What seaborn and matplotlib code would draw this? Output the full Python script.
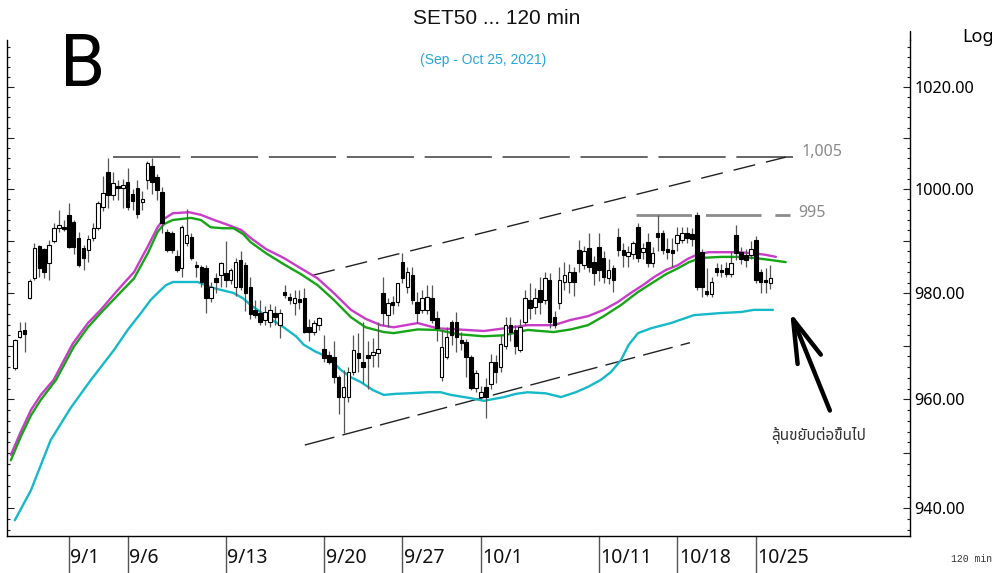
import matplotlib
matplotlib.use("Agg")
import matplotlib.pyplot as plt
import seaborn as sns
import numpy as np
import pandas as pd
from matplotlib import font_manager, ft2font
from matplotlib.ticker import FixedLocator, FuncFormatter, NullFormatter
from matplotlib.transforms import blended_transform_factory

# ---------------- data ----------------
opens = [965.8, 971.6, 973.0, 979.0, 982.8, 989.0, 988.4, 985.7, 989.9, 992.5, 992.6,
         995.0, 993.6, 990.5, 988.6, 988.2, 990.5, 992.4, 996.5, 1003.4, 998.8, 1000.6, 1000.2,
         1001.3, 999.0, 1000.2, 997.5, 1001.7, 1004.5, 1002.3, 999.4, 991.7, 991.5, 987.0, 984.8,
         989.6, 990.7, 985.4, 985.0, 984.7, 979.0, 982.8, 983.4, 983.8, 982.5, 981.1, 986.3,
         985.3, 981.1, 976.8, 976.2, 974.9, 974.5, 976.2, 973.9, 980.2, 979.2, 978.1, 978.9,
         979.0, 973.5, 972.6, 973.9, 969.5, 968.2, 967.9, 964.1, 960.4, 960.4, 965.1, 968.7,
         966.9, 968.2, 968.3, 968.7, 980.0, 975.8, 978.3, 978.3, 985.9, 981.1, 983.4, 978.3,
         976.8, 976.8, 979.0, 975.2, 964.1, 967.9, 974.5, 974.5, 971.1, 970.8, 967.9, 962.1,
         960.4, 962.3, 962.9, 966.9, 966.0, 970.0, 974.0, 973.0, 969.2, 974.5, 978.7, 977.3,
         980.6, 978.7, 982.5, 975.4, 978.1, 982.1, 982.1, 984.0, 988.2, 985.3, 988.6, 986.0,
         988.8, 986.7, 982.8, 984.7, 990.7, 988.2, 987.0, 987.4, 992.6, 987.8, 989.7, 985.7,
         991.5, 991.5, 988.4, 988.2, 989.6, 990.1, 991.5, 991.3, 995.0, 987.8, 980.4, 979.8,
         984.7, 984.4, 984.7, 983.6, 991.1, 987.8, 987.3, 987.3, 990.1, 984.0, 982.3, 981.9]
highs = [971.3, 974.5, 974.5, 982.7, 989.5, 989.2, 988.6, 990.1, 993.4, 995.9, 993.9,
         997.3, 994.0, 991.7, 989.1, 991.2, 993.5, 997.7, 1002.6, 1006.0, 1003.4, 1001.7, 1002.0,
         1004.0, 1000.0, 1001.7, 999.7, 1005.5, 1006.0, 1003.0, 1000.3, 992.3, 991.9, 988.2, 993.0,
         996.2, 991.5, 986.2, 985.4, 985.3, 982.1, 983.8, 986.0, 989.9, 984.7, 986.7, 988.0,
         986.0, 983.0, 978.7, 978.7, 977.5, 978.0, 977.5, 977.0, 981.5, 980.0, 980.6, 980.6,
         981.0, 975.0, 974.9, 975.4, 972.0, 969.0, 971.0, 964.5, 965.5, 966.0, 972.0, 972.5,
         974.5, 971.0, 971.5, 974.5, 983.0, 979.0, 979.5, 982.0, 987.7, 985.0, 985.0, 980.2,
         980.5, 981.5, 981.5, 976.5, 973.0, 973.5, 974.9, 976.4, 972.6, 971.3, 968.2, 965.5,
         962.5, 964.0, 968.5, 968.3, 972.0, 975.5, 975.5, 974.0, 975.0, 980.6, 982.0, 981.0,
         983.0, 984.0, 983.8, 976.5, 985.0, 986.0, 985.5, 985.0, 990.1, 989.0, 991.5, 987.0,
         991.5, 988.0, 986.5, 985.3, 992.4, 989.5, 989.0, 990.0, 993.4, 989.5, 991.5, 988.8,
         995.0, 992.0, 990.5, 990.5, 992.6, 992.6, 992.6, 992.5, 995.5, 988.4, 984.7, 983.0,
         985.7, 985.5, 986.0, 988.0, 993.0, 988.8, 988.5, 990.0, 991.0, 984.5, 984.7, 985.3]
lows = [965.5, 971.4, 968.8, 978.8, 982.5, 983.0, 982.8, 982.5, 989.5, 991.7, 991.8,
        988.6, 987.5, 985.0, 984.4, 985.9, 990.0, 992.0, 995.8, 996.3, 997.9, 997.9, 996.3,
        995.9, 996.0, 994.4, 996.0, 1000.0, 999.0, 997.9, 991.5, 987.9, 987.6, 984.0, 983.0,
        988.9, 986.3, 983.0, 981.1, 976.2, 978.3, 980.0, 981.1, 981.1, 981.7, 979.4, 980.6,
        976.5, 975.0, 975.2, 973.9, 974.0, 973.5, 974.0, 971.5, 979.0, 978.0, 975.8, 977.0,
        972.4, 971.0, 972.0, 973.0, 967.0, 966.5, 963.0, 957.2, 953.7, 959.5, 964.5, 965.0,
        963.0, 962.0, 966.0, 966.0, 973.9, 973.5, 976.0, 977.5, 982.0, 980.0, 978.0, 974.3,
        976.2, 976.0, 974.3, 971.0, 963.4, 967.5, 970.2, 968.8, 969.2, 964.1, 961.7, 961.3,
        960.0, 956.5, 962.0, 963.0, 965.0, 969.5, 971.0, 968.5, 968.8, 974.0, 975.0, 976.0,
        976.0, 978.0, 973.3, 973.3, 977.0, 980.5, 980.0, 979.5, 984.0, 984.5, 984.0, 981.5,
        982.3, 982.0, 981.7, 980.2, 987.0, 985.0, 985.0, 986.5, 986.0, 986.5, 985.0, 985.0,
        988.0, 987.5, 986.5, 985.0, 988.0, 989.5, 989.5, 989.0, 980.5, 979.2, 979.4, 979.2,
        983.2, 983.0, 983.0, 983.0, 986.3, 985.5, 985.0, 986.5, 982.0, 980.0, 980.0, 980.8]
closes = [971.1, 972.8, 972.2, 982.3, 988.6, 984.7, 984.0, 989.2, 992.5, 993.1, 992.2,
          988.8, 988.8, 985.3, 986.7, 990.3, 992.4, 997.3, 999.2, 998.8, 1001.2, 1000.2, 1000.8,
          996.5, 997.6, 995.2, 998.0, 1005.0, 1001.4, 999.8, 993.4, 988.2, 988.2, 984.4, 992.6,
          991.1, 986.7, 985.0, 982.1, 979.0, 981.1, 982.1, 985.7, 982.5, 984.4, 985.9, 981.1,
          980.0, 976.0, 975.8, 974.5, 976.4, 976.8, 975.4, 976.2, 979.6, 978.7, 979.0, 978.3,
          972.6, 972.6, 974.3, 975.2, 967.7, 966.9, 964.1, 960.4, 962.3, 965.1, 969.2, 967.7,
          966.0, 967.7, 968.9, 969.5, 976.2, 978.1, 977.7, 981.9, 982.8, 984.0, 978.7, 976.2,
          979.0, 979.2, 974.9, 973.3, 969.8, 971.7, 972.0, 971.7, 970.6, 967.9, 962.1, 964.9,
          961.3, 960.4, 966.9, 965.1, 970.4, 974.0, 972.6, 970.0, 973.5, 979.0, 977.1, 979.0,
          978.3, 982.8, 974.5, 973.9, 982.5, 983.4, 984.0, 982.1, 985.7, 988.0, 985.0, 983.8,
          984.4, 983.0, 984.4, 982.5, 988.2, 987.3, 987.8, 989.5, 986.7, 988.6, 985.7, 987.6,
          990.7, 988.2, 987.8, 987.6, 991.1, 991.5, 990.5, 990.3, 981.1, 981.1, 979.8, 982.1,
          984.0, 984.0, 983.6, 985.7, 987.6, 986.5, 986.3, 988.4, 982.5, 982.1, 982.1, 982.8]

date_labels = ["9/1", "9/6", "9/13", "9/20", "9/27", "10/1", "10/11", "10/18", "10/25"]
date_index = [11, 23, 43, 63, 79, 95, 119, 135, 151]

# moving-average lines (bar position, value)
ma_upper_x = [-0.8, 1.2, 3.3, 5.3, 7.9, 11.8, 14.9, 17.5, 21.0, 24.3, 27.1, 29.1, 30.4, 32.2,
              35.5, 37.9, 40.6, 43.0, 46.1, 48.1, 51.2, 54.8, 58.3, 61.7, 65.0, 68.5, 71.5,
              74.6, 77.2, 82.1, 86.2, 90.3, 95.6, 99.7, 104.5, 109.8, 113.3, 116.8, 120.0,
              122.9, 125.5, 128.0, 130.2, 132.7, 135.1, 137.1, 139.2, 141.4, 143.9, 147.3,
              150.6, 153.0, 155.1]
ma_upper_y = [949.7, 953.9, 958.0, 960.8, 963.6, 970.4, 974.3, 976.8, 980.6, 984.0, 988.9,
              992.6, 994.2, 995.3, 995.5, 995.0, 994.0, 993.2, 992.1, 990.5, 988.4, 986.7,
              984.7, 982.8, 980.0, 976.8, 975.1, 973.9, 973.5, 974.3, 973.3, 973.1, 972.8,
              973.3, 973.9, 973.9, 974.9, 975.6, 976.8, 978.3, 980.0, 981.5, 983.0, 984.4,
              985.3, 986.5, 987.4, 987.8, 987.8, 987.8, 987.6, 987.3, 986.9]
ma_mid_x = [-0.8, 1.2, 3.3, 5.3, 8.4, 12.0, 14.9, 17.5, 21.0, 24.3, 27.1, 29.1, 30.4, 32.2,
            35.9, 37.9, 39.9, 42.4, 44.6, 46.5, 48.1, 51.2, 54.8, 58.3, 61.7, 65.0, 68.5,
            71.5, 75.2, 77.2, 82.1, 86.2, 90.3, 95.6, 99.7, 104.5, 109.8, 113.3, 116.8, 120.0,
            123.5, 127.0, 130.2, 132.7, 135.1, 137.4, 139.8, 143.9, 147.3, 150.6, 154.1, 157.1]
ma_mid_y = [948.7, 953.0, 957.0, 959.9, 963.6, 969.8, 973.5, 976.2, 979.6, 982.8, 987.6,
            991.7, 993.2, 994.0, 994.4, 994.0, 992.6, 992.4, 992.4, 991.3, 989.7, 987.6,
            985.5, 983.6, 981.5, 978.7, 975.4, 973.5, 972.6, 972.4, 973.1, 973.0, 972.2,
            971.8, 972.0, 973.0, 972.6, 973.1, 973.9, 975.6, 977.7, 980.2, 982.1, 983.6,
            984.7, 985.9, 986.7, 986.9, 986.9, 986.7, 986.3, 985.9]
ma_low_x = [0.0, 3.3, 7.3, 11.4, 15.5, 20.2, 23.0, 25.7, 27.7, 29.1, 30.8, 32.2, 37.3, 39.9,
            42.0, 44.6, 46.5, 48.1, 51.6, 54.8, 57.3, 58.9, 61.3, 63.8, 66.4, 68.5, 70.5,
            73.0, 75.2, 77.6, 80.1, 84.2, 86.8, 88.9, 92.9, 95.6, 99.7, 102.1, 104.5, 108.2,
            111.3, 114.3, 116.8, 119.4, 121.5, 123.5, 125.1, 127.0, 129.6, 133.7, 138.4,
            143.9, 148.0, 150.6, 154.5]
ma_low_y = [937.7, 943.2, 952.4, 958.4, 963.6, 969.2, 973.0, 976.2, 978.7, 980.0, 981.5,
            982.1, 982.1, 981.1, 980.6, 980.0, 979.0, 977.7, 975.4, 973.5, 971.8, 970.2,
            968.9, 967.9, 965.5, 964.1, 963.2, 961.7, 960.8, 961.0, 961.1, 961.3, 961.3,
            960.8, 960.2, 959.7, 960.4, 961.0, 961.3, 961.1, 960.4, 961.3, 962.3, 963.6,
            965.1, 967.3, 970.2, 972.4, 973.3, 974.3, 975.8, 976.2, 976.4, 976.8, 976.8]

# horizontal resistance levels
level_values = [1006.2, 995.0]
level_labels = ["1,005", "995"]
level_start = [20.0, 126.5]
level_end = [158.6, 158.0]

# channel trend lines
upper_trend_x = [60.8, 157.1]
upper_trend_y = [983.4, 1006.2]
lower_trend_x = [59.1, 137.6]
lower_trend_y = [951.5, 970.6]

note_text = "ลุ้นขยับต่อขึ้นไป"

# ---------------- fonts ----------------
def find_thai_font():
    found = []
    for f in font_manager.fontManager.ttflist:
        try:
            cm = ft2font.FT2Font(f.fname).get_charmap()
        except Exception:
            continue
        if 0x0E25 in cm and 0x0E49 in cm and 0x0E02 in cm:
            found.append(f.name)
    for pref in ["Tahoma", "Noto Sans Thai", "Loma", "Garuda", "Sarabun", "Leelawadee UI"]:
        if pref in found:
            return pref
    return found[0] if found else "DejaVu Sans"

thai_font = find_thai_font()

sns.set_theme(style="white")
plt.rcParams["font.family"] = ["Noto Sans", "DejaVu Sans"]

# ---------------- figure ----------------
W, H = 997, 573
fig = plt.figure(figsize=(W / 100, H / 100), dpi=100)
fig.patch.set_facecolor("white")
ax = fig.add_axes([7 / W, 37 / H, 903 / W, 496 / H])
ax.set_facecolor("white")
ax.set_yscale("log")

n = len(opens)
idx = np.arange(n)
df = pd.DataFrame({"i": idx, "open": opens, "high": highs, "low": lows, "close": closes})

# MA lines via seaborn
ma_df = pd.concat([
    pd.DataFrame({"i": ma_upper_x, "v": ma_upper_y, "s": "upper"}),
    pd.DataFrame({"i": ma_mid_x, "v": ma_mid_y, "s": "mid"}),
    pd.DataFrame({"i": ma_low_x, "v": ma_low_y, "s": "low"}),
])
sns.lineplot(data=ma_df, x="i", y="v", hue="s", sort=False, estimator=None,
             palette={"upper": "#c83cc8", "mid": "#16a516", "low": "#16b9c8"},
             linewidth=1.7, legend=False, ax=ax, zorder=2)

# candles
up = df["close"] > df["open"]
ax.vlines(df["i"], df["low"], df["high"], color="#555555", linewidth=0.9, zorder=3)
body_bottom = np.minimum(df["open"], df["close"])
body_h = np.maximum(np.abs(df["close"] - df["open"]), 0.35)
ax.bar(df["i"], body_h, bottom=body_bottom, width=0.72,
       color=np.where(up, "white", "black"),
       edgecolor="black", linewidth=0.8, zorder=4)

# level lines
level_colors = ["#3c3c3c", "#8c8c8c"]
level_lw = [1.1, 2.0]
level_dash = [(44, 7), (20, 5)]
level_text_dy = [4, 1]
for v, lab, s, e, c, lw, d, dy in zip(level_values, level_labels, level_start, level_end,
                                      level_colors, level_lw, level_dash, level_text_dy):
    ax.plot([s, e], [v, v], color=c, lw=lw, dashes=d, zorder=1)
    ax.annotate(lab, xy=(e, v), xytext=(6, dy), textcoords="offset points",
                ha="left", va="center", color="#8a8a8a", fontsize=11.5)

ax.plot(upper_trend_x, upper_trend_y, color="#222222", lw=1.0, dashes=(16, 8), zorder=1)
ax.plot(lower_trend_x, lower_trend_y, color="#222222", lw=1.0, dashes=(22, 6), zorder=1)

# arrow + thai note
ax.annotate("", xy=(158.0, 976.4), xytext=(166.1, 957.9),
            arrowprops=dict(arrowstyle="->,head_length=3.1,head_width=0.9",
                            mutation_scale=10, lw=3.2, color="black",
                            shrinkA=0, shrinkB=0), zorder=5)
ax.annotate(note_text, xy=(163.5, 957.9), xytext=(1, -18), textcoords="offset points",
            ha="center", va="center", fontsize=11, color="#333333",
            family=[thai_font, "DejaVu Sans"])

# axes limits
ax.set_xlim(-1.59, 182.43)
ax.set_ylim(934.84, 1029.35)

# y ticks
major = list(range(940, 1030, 10))
minor = [v for v in range(936, 1030, 2) if v % 10 != 0]
ax.yaxis.set_major_locator(FixedLocator(major))
ax.yaxis.set_minor_locator(FixedLocator(minor))
ax.yaxis.set_major_formatter(FuncFormatter(lambda v, p: f"{v:.2f}" if round(v) % 20 == 0 else ""))
ax.yaxis.set_minor_formatter(NullFormatter())
ax.tick_params(axis="y", which="both", direction="in", left=True, right=True,
               labelleft=False, labelright=True, color="#222222", width=0.8)
ax.tick_params(axis="y", which="major", length=5, pad=3, labelsize=11.7, labelcolor="black")
ax.tick_params(axis="y", which="minor", length=2.5)
ax.set_xticks([])
ax.set_xlabel("")
ax.set_ylabel("")
ax.grid(False)

for side in ["left", "right", "bottom"]:
    ax.spines[side].set_visible(True)
    ax.spines[side].set_color("black")
    ax.spines[side].set_linewidth(1.0)
ax.spines["top"].set_visible(False)
ax.plot([1, 1], [1, 1.018], transform=ax.transAxes, clip_on=False, color="black", lw=1.0)

# date separators and labels
trans = blended_transform_factory(ax.transData, ax.transAxes)
for d, lab in zip(date_index, date_labels):
    ax.plot([d, d], [0, -0.08], transform=trans, clip_on=False, color="#555555", lw=1.0)
    ax.annotate(lab, xy=(d, 0), xycoords=trans, xytext=(1.2, -16), textcoords="offset points",
                ha="left", va="center", fontsize=14, color="#111111", annotation_clip=False)

# texts
fig.text(497 / W, 1 - 19 / H, "SET50 ... 120 min", ha="center", va="center",
         fontsize=15, family="Liberation Sans", color="#111111")
fig.text(483 / W, 1 - 60 / H, "(Sep - Oct 25, 2021)", ha="center", va="center",
         fontsize=10, family="Liberation Sans", color="#2aa4df")
fig.text(83 / W, 1 - 67 / H, "B", ha="center", va="center", fontsize=52,
         family="Roboto", color="black")
fig.text(962 / W, 1 - 37 / H, "Log", ha="left", va="center", fontsize=13, color="black")
fig.text(972 / W, 1 - 559 / H, "120 min", ha="center", va="center", fontsize=7,
         family="Liberation Mono", color="#333333")

fig.savefig("out.png", dpi=100, facecolor="white")
